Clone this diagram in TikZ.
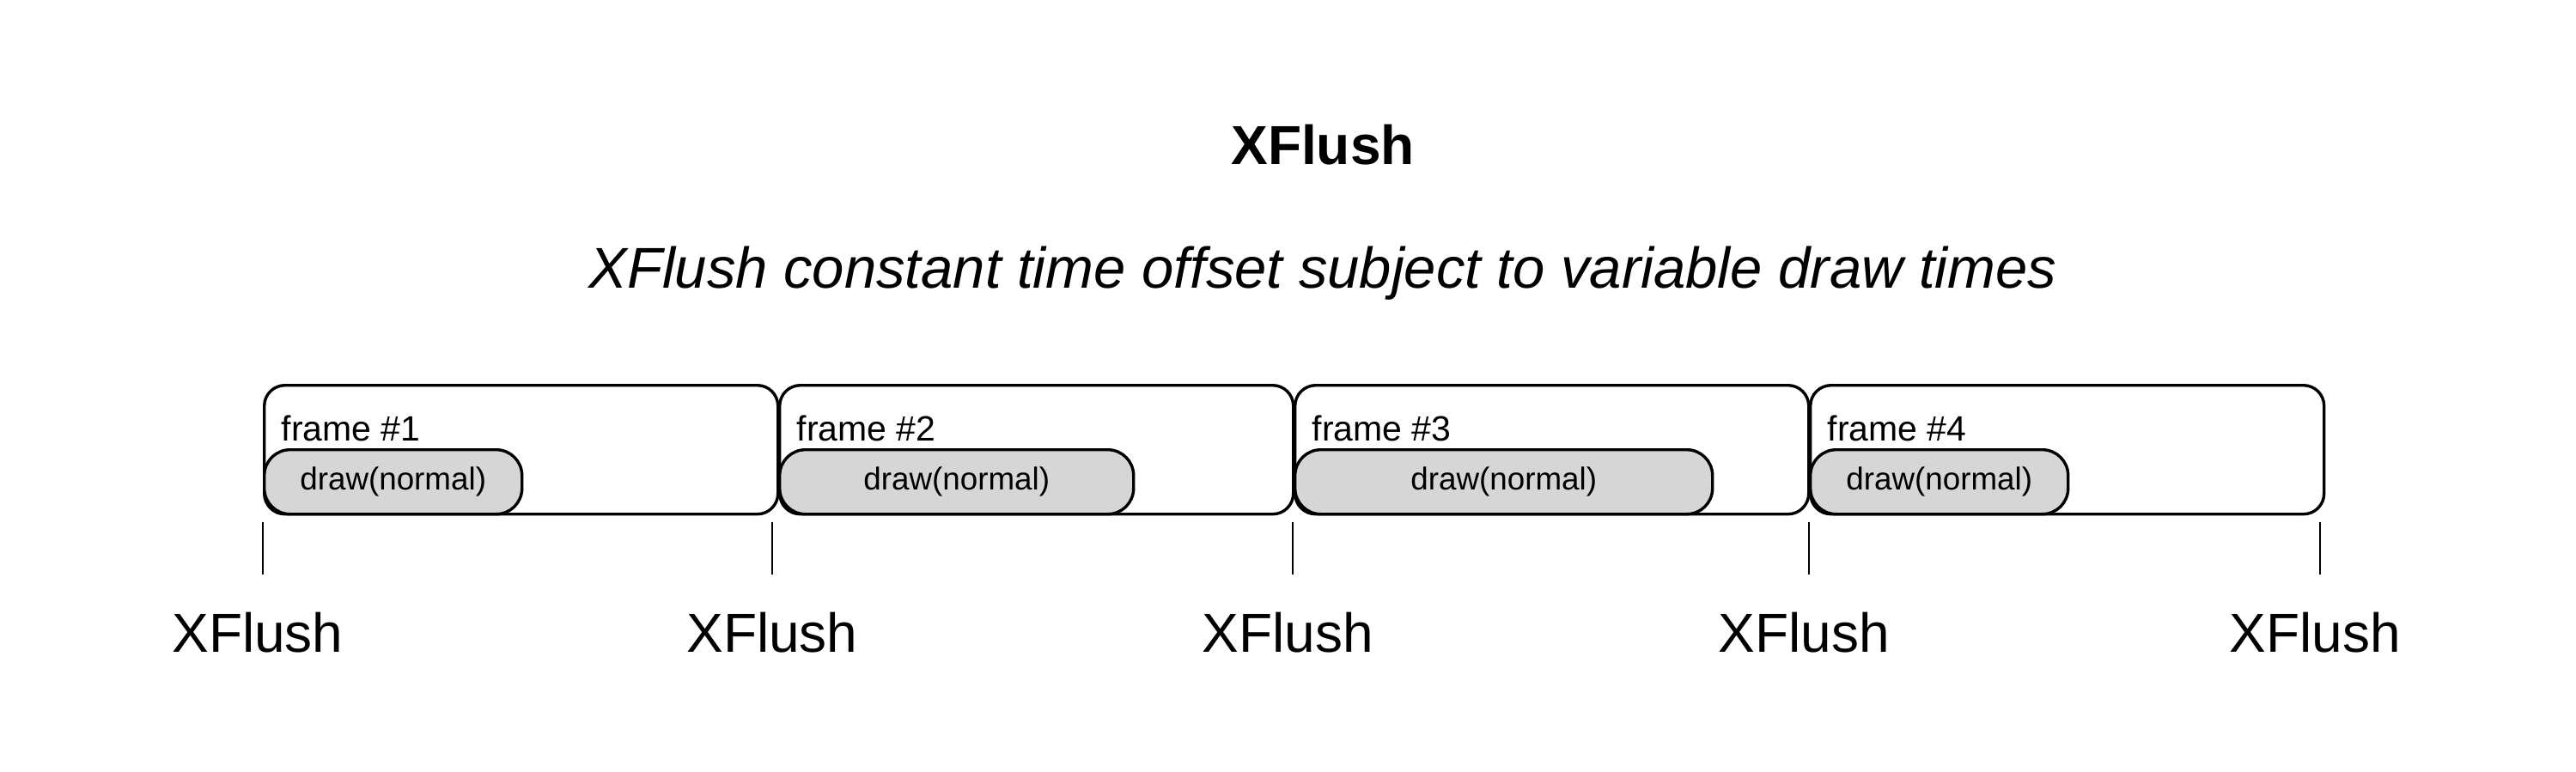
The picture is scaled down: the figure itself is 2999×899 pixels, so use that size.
\documentclass[tikz,border=0pt]{standalone}
\usepackage{fontspec}
\setmainfont{Liberation Sans}
\definecolor{drawfill}{HTML}{D6D6D6}
\begin{document}
\begin{tikzpicture}[x=0.25pt,y=-0.25pt,
  framebox/.style={draw, line width=0.85pt, rounded corners=6pt, fill=white, inner sep=0pt,
    minimum width=149.5pt, minimum height=37.5pt, anchor=north west},
  drawbox/.style={draw, line width=0.85pt, rounded corners=7.5pt, fill=drawfill, inner sep=0pt,
    minimum height=18.75pt, anchor=south west, font=\fontsize{9.2pt}{11pt}\selectfont},
  framelabel/.style={anchor=base west, inner sep=0pt, font=\fontsize{10.25pt}{12pt}\selectfont},
  flushlabel/.style={anchor=base, inner sep=0pt, font=\fontsize{16pt}{19pt}\selectfont},
  tick/.style={line width=0.6pt}]
\useasboundingbox (0,0) rectangle (2999,899);
% title
\node[anchor=base, inner sep=0pt, font=\fontsize{16pt}{19pt}\selectfont\bfseries] (title) at (1540,191) {XFlush};
\node[anchor=base, inner sep=0pt, font=\fontsize{16.75pt}{20pt}\selectfont\itshape] (subtitle) at (1540,335) {XFlush constant time offset subject to variable draw times};
% frames
\node[framebox] (f1) at (306,447) {};
\node[framebox] (f2) at (906,447) {};
\node[framebox] (f3) at (1506,447) {};
\node[framebox] (f4) at (2106,447) {};
\node[framelabel] (fl1) at (327,513) {frame \#1};
\node[framelabel] (fl2) at (927,513) {frame \#2};
\node[framelabel] (fl3) at (1527,513) {frame \#3};
\node[framelabel] (fl4) at (2127,513) {frame \#4};
% draw boxes
\node[drawbox, minimum width=75pt] (d1) at (f1.south west) {\raisebox{-0.6pt}{draw(normal)}};
\node[drawbox, minimum width=103pt] (d2) at (f2.south west) {\raisebox{-0.6pt}{draw(normal)}};
\node[drawbox, minimum width=121.5pt] (d3) at (f3.south west) {\raisebox{-0.6pt}{draw(normal)}};
\node[drawbox, minimum width=75pt] (d4) at (f4.south west) {\raisebox{-0.6pt}{draw(normal)}};
% ticks
\coordinate (t1) at (306,608); \coordinate (b1) at (306,669);
\coordinate (t2) at (899,608); \coordinate (b2) at (899,669);
\coordinate (t3) at (1505,608); \coordinate (b3) at (1505,669);
\coordinate (t4) at (2106,608); \coordinate (b4) at (2106,669);
\coordinate (t5) at (2701,608); \coordinate (b5) at (2701,669);
\foreach \i in {1,...,5} { \draw[tick] (t\i) -- (b\i); }
% labels
\node[flushlabel] (x1) at (300,759) {XFlush};
\node[flushlabel] (x2) at (899,759) {XFlush};
\node[flushlabel] (x3) at (1499,759) {XFlush};
\node[flushlabel] (x4) at (2100,759) {XFlush};
\node[flushlabel] (x5) at (2695,759) {XFlush};
\end{tikzpicture}
\end{document}
